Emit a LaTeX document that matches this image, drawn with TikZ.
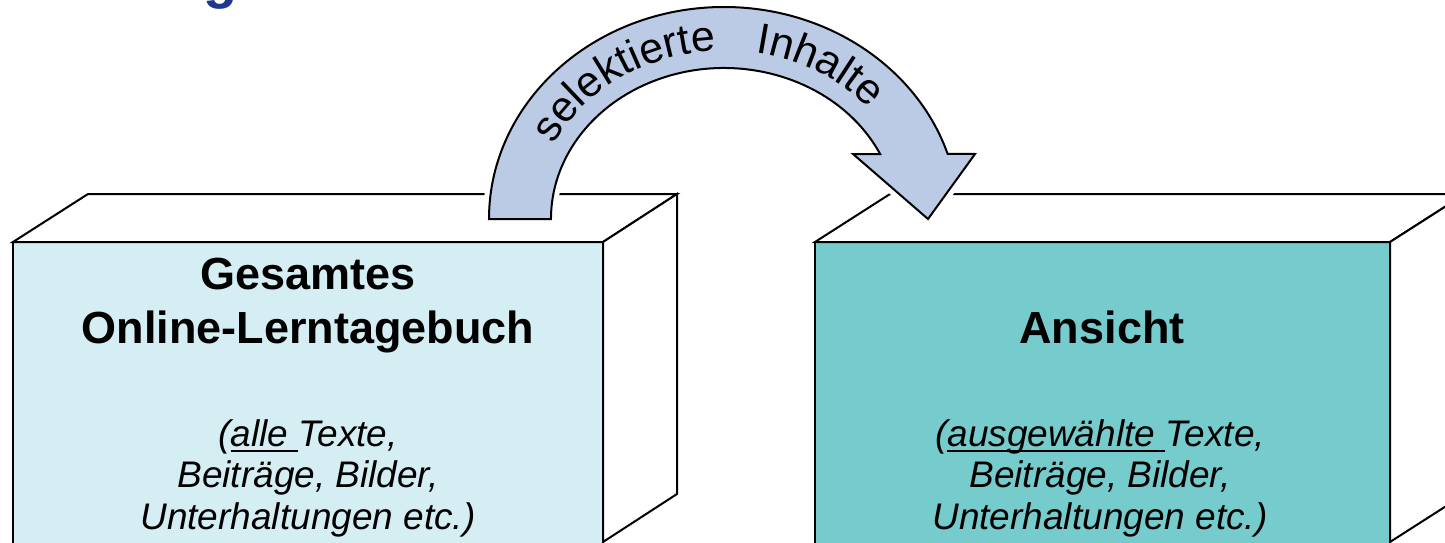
\documentclass[tikz,border=0pt]{standalone}
\usepackage{fontspec}
\setmainfont{Liberation Sans}
\usetikzlibrary{decorations.text}
\definecolor{arrowfill}{RGB}{187,203,230}
\definecolor{leftface}{RGB}{213,238,243}
\definecolor{rightface}{RGB}{118,203,204}
\definecolor{titleblue}{RGB}{31,56,140}
\newcommand\myul[1]{\setbox0\hbox{#1}\rlap{\rule[-0.17em]{\wd0}{0.07em}}\box0}
\newcommand\mybffont{\fontsize{22.5pt}{27.5pt}\selectfont\bfseries}
\newcommand\myitfont{\fontsize{18.5pt}{21.5pt}\selectfont\itshape}
\newcommand\myarcfont{\fontsize{21.5pt}{26pt}\selectfont}
\begin{document}
\begin{tikzpicture}[x=0.5pt,y=0.5pt,
  edge/.style={draw=black, line width=1pt, line join=miter},
  bftext/.style={font=\mybffont, anchor=base, inner sep=0pt},
  ittext/.style={font=\myitfont, anchor=base, inner sep=0pt},
  arcshape/.style={fill=arrowfill, draw=black, line width=1pt, preaction={draw=white, line width=6pt}}]
\useasboundingbox (0,0) rectangle (1445,542);

% title fragment
\node[font=\fontsize{28pt}{34pt}\selectfont\bfseries, text=titleblue, anchor=base west, inner sep=0pt] (title) at (203,544) {g};

% left box
\draw[edge, fill=leftface] (13,-6) -- (13,300) -- (603,300) -- (603,-6);
\draw[edge, fill=white] (13,300) -- (88,348) -- (677,348) -- (603,300) -- cycle;
\draw[edge, fill=white] (603,300) -- (677,348) -- (677,48) -- (603,0) -- cycle;

% right box
\draw[edge, fill=rightface] (815,-6) -- (815,300) -- (1390,300) -- (1390,-6);
\draw[edge, fill=white] (815,300) -- (890,348) -- (1465,348) -- (1390,300) -- cycle;
\draw[edge, fill=white] (1390,300) -- (1465,348) -- (1465,48) -- (1390,0) -- cycle;

% curved arrow
\draw[arcshape] (489,323) arc[start angle=180, end angle=17.86, x radius=117.5pt, y radius=106pt]
  -- (975,388) -- (928,323) -- (853,388) -- (880.1,388)
  arc[start angle=25.5, end angle=180, x radius=86.5pt, y radius=75.5pt] -- cycle;

\path[decorate, decoration={text along path, text={|\myarcfont|selektierte}, text align=center}]
  (724,323) ++(164:95pt and 84pt) arc[start angle=164, end angle=83, x radius=95pt, y radius=84pt];
\path[decorate, decoration={text along path, text={|\myarcfont|Inhalte}, text align=center}]
  (724,323) ++(95:95.5pt and 84.5pt) arc[start angle=95, end angle=25, x radius=95.5pt, y radius=84.5pt];

% left texts
\node[bftext] (l1) at (308,253) {Gesamtes};
\node[bftext] (l2) at (308,199) {Online-Lerntagebuch};
\node[ittext] (l3) at (308,96) {(\myul{alle\ }Texte,};
\node[ittext] (l4) at (308,55) {Beiträge, Bilder,};
\node[ittext] (l5) at (308,13) {Unterhaltungen etc.)};

% right texts
\node[bftext] (r1) at (1102,199) {Ansicht};
\node[ittext] (r2) at (1100,96) {(\myul{ausgewählte\ }Texte,};
\node[ittext] (r3) at (1100,55) {Beiträge, Bilder,};
\node[ittext] (r4) at (1100,13) {Unterhaltungen etc.)};
\end{tikzpicture}
\end{document}
